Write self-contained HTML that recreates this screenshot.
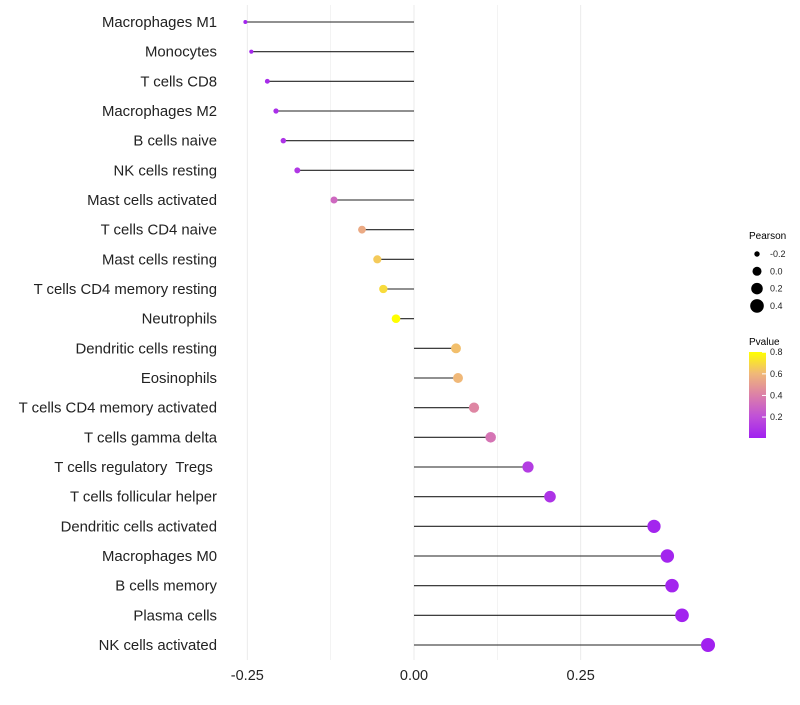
<!DOCTYPE html>
<html><head><meta charset="utf-8"><style>
body{margin:0;background:#fff;font-family:"Liberation Sans",sans-serif}
svg text{font-family:"Liberation Sans",sans-serif;white-space:pre}
</style></head><body>
<svg id="c" width="800" height="700">
<defs><linearGradient id="pg" x1="0" y1="1" x2="0" y2="0">
<stop offset="0" stop-color="#a020f0"/><stop offset="0.25" stop-color="#c050d8"/><stop offset="0.5" stop-color="#dc80a8"/><stop offset="0.75" stop-color="#f0b878"/><stop offset="1" stop-color="#ffff00"/></linearGradient></defs>
<g id="grid"></g><g id="marks"></g><g id="labels"></g>
<g font-size="9">
<text x="749" y="239" font-size="10">Pearson</text>
<g id="sizeLeg"></g>
<text x="749" y="345" font-size="10">Pvalue</text>
<rect x="749" y="352" width="17" height="86" fill="url(#pg)"/>
<g id="colLeg"></g>
</g>
</svg>
<script>
const categories=["Macrophages M1","Monocytes","T cells CD8","Macrophages M2","B cells naive","NK cells resting","Mast cells activated","T cells CD4 naive","Mast cells resting","T cells CD4 memory resting","Neutrophils","Dendritic cells resting","Eosinophils","T cells CD4 memory activated","T cells gamma delta","T cells regulatory  Tregs ","T cells follicular helper","Dendritic cells activated","Macrophages M0","B cells memory","Plasma cells","NK cells activated"];
const pearson=[-0.253,-0.244,-0.22,-0.207,-0.196,-0.175,-0.12,-0.078,-0.055,-0.046,-0.027,0.063,0.066,0.09,0.115,0.171,0.204,0.36,0.38,0.387,0.402,0.441];
const pvalue=[0.02,0.03,0.05,0.06,0.08,0.1,0.3,0.55,0.65,0.7,0.82,0.62,0.6,0.42,0.35,0.12,0.08,0.02,0.02,0.02,0.01,0.005];
const xTicks=[-0.25,0,0.25];
const xTickLabels=["-0.25","0.00","0.25"];
const sizeLegVals=[-0.2,0,0.2,0.4];
const colLegVals=[0.2,0.4,0.6,0.8];
const NS="http://www.w3.org/2000/svg";
const X=v=>414+v*666.7;
const Y=i=>22+i*(623/21);
const R=v=>Math.sqrt(Math.max(2,4+(v+0.25)*65.2));
const stops=[[0,[160,32,240]],[0.2,[192,80,216]],[0.4,[220,128,168]],[0.6,[240,184,120]],[0.8,[255,255,0]]];
function col(p){p=Math.max(0,Math.min(0.8,p));for(let k=1;k<stops.length;k++){if(p<=stops[k][0]){const a=stops[k-1],b=stops[k],t=(p-a[0])/(b[0]-a[0]);return`rgb(${a[1].map((c,j)=>Math.round(c+(b[1][j]-c)*t)).join(",")})`;}}return"rgb(255,255,0)";}
function mk(tag,at,par){const e=document.createElementNS(NS,tag);for(const k in at)e.setAttribute(k,at[k]);par.appendChild(e);return e;}
const grid=document.getElementById("grid"),marks=document.getElementById("marks"),labels=document.getElementById("labels");
[-0.25,-0.125,0,0.125,0.25].forEach(v=>{const l=mk("line",{x1:X(v),x2:X(v),y1:5,y2:660,stroke:"#ebebeb","stroke-width":v*8%2===0?1:0.6},grid);

});
xTicks.forEach((v,i)=>{const t=mk("text",{x:X(v),y:680,"text-anchor":"middle","font-size":14.5,fill:"#222"},labels);t.textContent=xTickLabels[i];

});
categories.forEach((c,i)=>{const y=Y(i);
const t=mk("text",{x:217,y:y+5,"text-anchor":"end","font-size":14.9,fill:"#222"},labels);t.textContent=c;


const l=mk("line",{x1:X(0),x2:X(pearson[i]),y1:y,y2:y,stroke:"#222","stroke-width":1.1},marks);


const d=mk("circle",{cx:X(pearson[i]),cy:y,r:R(pearson[i]),fill:col(pvalue[i])},marks);

});
const sl=document.getElementById("sizeLeg");
sizeLegVals.forEach((v,i)=>{const y=254+i*17.3;
const d=mk("circle",{cx:757,cy:y,r:R(v),fill:"#000"},sl);


const t=mk("text",{x:770,y:y+3,"font-size":9,fill:"#222"},sl);t.textContent=v===0?"0.0":v.toFixed(1);

});
const cl=document.getElementById("colLeg");
colLegVals.forEach(v=>{const y=438-(v-0.006)*108;
const t=mk("text",{x:770,y:y+3,"font-size":9,fill:"#222"},cl);t.textContent=v.toFixed(1);


const l=mk("line",{x1:762,x2:766,y1:y,y2:y,stroke:"#fff"},cl);

});
</script>
</body></html>
